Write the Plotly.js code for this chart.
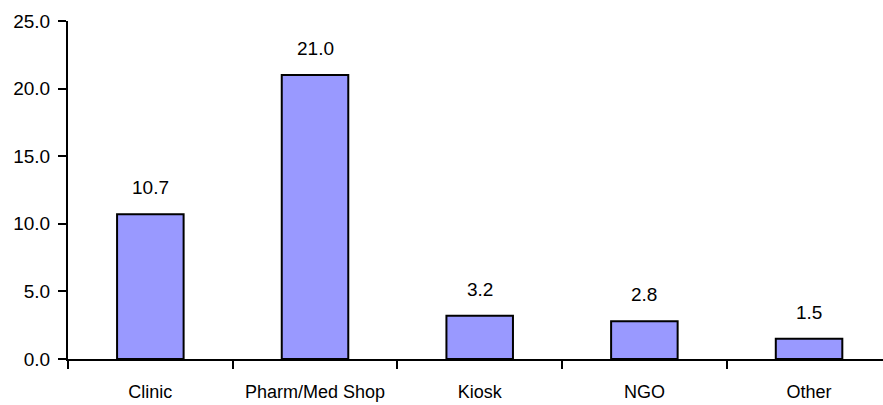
<!DOCTYPE html>
<html><head><meta charset="utf-8">
<script src="https://cdn.plot.ly/plotly-3.0.1.min.js"></script>
<style>html,body{margin:0;padding:0;background:#fff}#chart{width:883px;height:405px}</style>
</head><body><div id="chart"></div>
<script>
const categories = ["Clinic", "Pharm/Med Shop", "Kiosk", "NGO", "Other"];
const values = [10.7, 21.0, 3.2, 2.8, 1.5];
const yTickVals = [0, 5, 10, 15, 20, 25];
const yTickText = ["0.0", "5.0", "10.0", "15.0", "20.0", "25.0"];

const FONT = "'Liberation Sans', Arial, sans-serif";

const trace = {
  type: "bar",
  x: categories,
  y: values,
  width: 0.404,
  marker: {color: "#9999FF", line: {color: "#000000", width: 2}},
  hoverinfo: "none"
};

const annotations = categories.map((c, i) => ({
  x: c, y: values[i], xref: "x", yref: "y",
  text: values[i].toFixed(1),
  showarrow: false, yanchor: "bottom", yshift: 14,
  font: {family: FONT, size: 19, color: "#000"}
}));

const layout = {
  width: 883, height: 405,
  margin: {l: 68, r: 0, t: 21, b: 46},
  paper_bgcolor: "#fff", plot_bgcolor: "#fff",
  showlegend: false,
  bargap: 0,
  xaxis: {
    type: "category",
    range: [-0.5, 4.449],
    showline: true, linecolor: "#000", linewidth: 2,
    ticks: "outside", tickson: "boundaries", ticklen: 8, tickwidth: 2, tickcolor: "#000",
    showgrid: false, zeroline: false,
    tickangle: 0,
    tickfont: {family: FONT, size: 18, color: "#000"},
    ticklabelstandoff: 15
  },
  yaxis: {
    range: [0, 25],
    tickvals: yTickVals, ticktext: yTickText,
    showline: true, linecolor: "#000", linewidth: 2,
    ticks: "outside", ticklen: 8, tickwidth: 2, tickcolor: "#000",
    showgrid: false, zeroline: false,
    tickfont: {family: FONT, size: 19, color: "#000"},
    ticklabelstandoff: 4
  },
  annotations: annotations
};

Plotly.newPlot("chart", [trace], layout, {staticPlot: true, displayModeBar: false});
</script>
</body></html>
